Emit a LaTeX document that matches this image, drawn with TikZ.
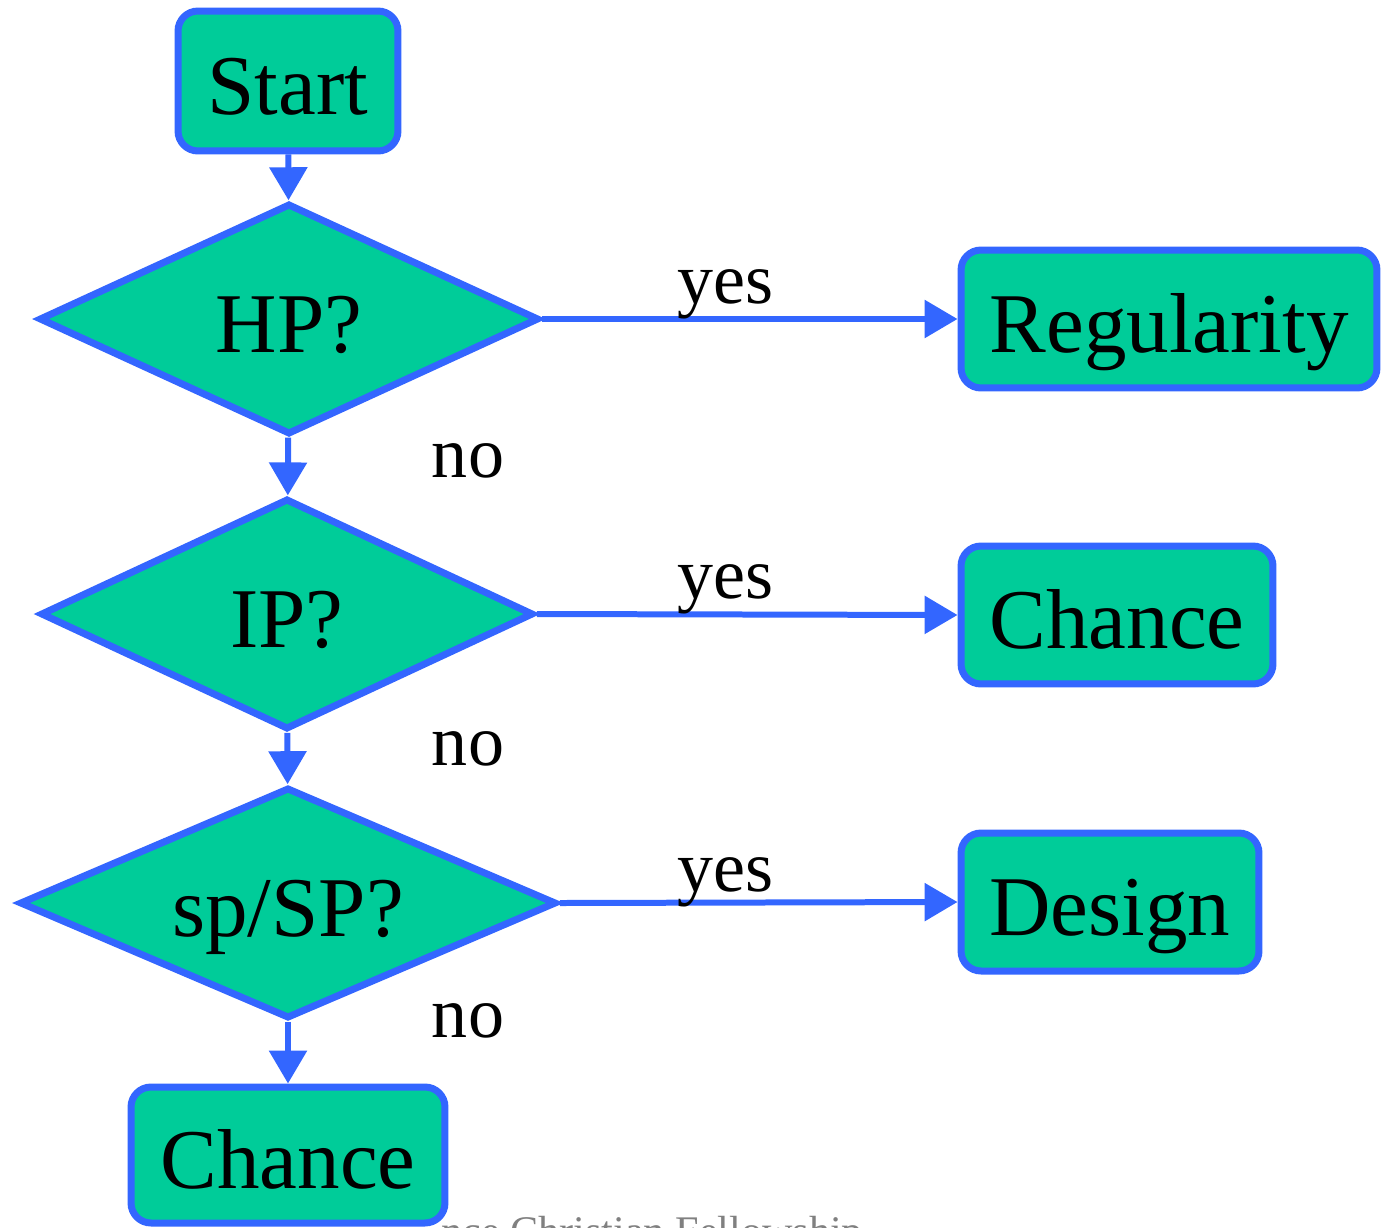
\documentclass[tikz,border=0pt]{standalone}
\usepackage{fontspec}
\setmainfont{Liberation Serif}
\usetikzlibrary{shapes.geometric,arrows.meta}
\definecolor{boxgreen}{RGB}{0,204,153}
\definecolor{lineblue}{RGB}{51,102,255}
\tikzset{
  base/.style={draw=lineblue, fill=boxgreen, line width=0.14cm, inner sep=0pt,
    font=\fontsize{48.4}{58}\selectfont, text height=37.8pt, text depth=0pt},
  termbox/.style={base, rectangle, rounded corners=0.4cm},
  decision/.style={base, diamond, shape aspect=2.2},
  conn/.style={draw=lineblue, line width=0.12cm,
    -{Triangle[length=0.66cm,width=0.74cm]}},
  lbl/.style={font=\fontsize{41}{49}\selectfont, anchor=base, inner sep=0pt},
  foot/.style={font=\fontsize{24}{29}\selectfont, text=gray, anchor=base west, inner sep=0pt}
}
\begin{document}
\begin{tikzpicture}[x=0.02cm, y=-0.02cm]
\useasboundingbox (0,0) rectangle (1381,1227);
\node[foot] (ft) at (441,1245) {nce Christian Fellowship};
\node[termbox, minimum width=4.4cm, minimum height=2.8cm] (start) at (288,81) {Start};
\node[decision, minimum width=10.0cm, minimum height=4.62cm] (hp) at (289,319) {HP?};
\node[decision, minimum width=9.86cm, minimum height=4.62cm] (ip) at (287,614) {IP?};
\node[decision, minimum width=10.74cm, minimum height=4.62cm] (sp) at (288,903) {sp/SP?};
\node[termbox, minimum width=8.32cm, minimum height=2.76cm] (reg) at (1169,319) {Regularity};
\node[termbox, minimum width=6.24cm, minimum height=2.76cm] (ch1) at (1117,615) {Chance};
\node[termbox, minimum width=5.96cm, minimum height=2.76cm] (des) at (1110,902) {Design};
\node[termbox, minimum width=6.28cm, minimum height=2.72cm] (ch2) at (288,1155) {Chance};
\draw[conn] (start) -- (hp);
\draw[conn] (hp) -- (ip);
\draw[conn] (ip) -- (sp);
\draw[conn] (sp) -- (ch2);
\draw[conn] (hp.east) -- (reg.west);
\draw[conn] (ip.east) -- (ch1.west);
\draw[conn] (sp.east) -- (des.west);
\node[lbl] (y1) at (725,303) {yes};
\node[lbl] (y2) at (725,598) {yes};
\node[lbl] (y3) at (725,891) {yes};
\node[lbl] (n1) at (468,477) {no};
\node[lbl] (n2) at (468,765) {no};
\node[lbl] (n3) at (468,1037) {no};
\end{tikzpicture}
\end{document}
